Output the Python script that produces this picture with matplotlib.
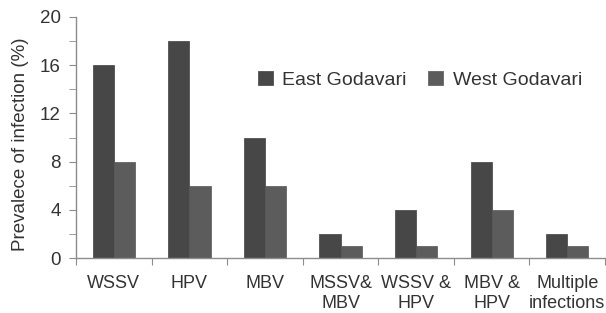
import numpy as np
import matplotlib.pyplot as plt
from matplotlib.ticker import MultipleLocator, FixedLocator

categories = ["WSSV", "HPV", "MBV", "MSSV&\nMBV", "WSSV &\nHPV", "MBV &\nHPV", "Multiple\ninfections"]
east = [16, 18, 10, 2, 4, 8, 2]
west = [8, 6, 6, 1, 1, 4, 1]

plt.rcParams['font.family'] = ['Liberation Sans', 'DejaVu Sans']
txt = '#333333'
axc = '#8c8c8c'

fig = plt.figure(figsize=(6.06, 3.13), dpi=100)
ax = fig.add_axes([0.1254, 0.1757, 0.873, 0.77])

x = np.arange(len(categories))
w = 0.28
ax.bar(x - w / 2, east, w, color='#474747', edgecolor='#404040', linewidth=0.5, label='East Godavari')
ax.bar(x + w / 2, west, w, color='#5c5c5c', edgecolor='#555555', linewidth=0.5, label='West Godavari')

ax.set_xlim(-0.5, 6.5)
ax.set_ylim(0, 20)
ax.yaxis.set_major_locator(MultipleLocator(4))
ax.yaxis.set_minor_locator(MultipleLocator(2))
ax.xaxis.set_major_locator(FixedLocator(np.arange(-0.5, 7, 1)))
ax.xaxis.set_minor_locator(FixedLocator(x))
ax.set_xticklabels([])
ax.set_xticklabels(categories, minor=True, fontsize=13, color=txt, linespacing=1.25)
ax.tick_params(axis='x', which='minor', length=0, pad=12)
ax.tick_params(axis='x', which='major', length=5, color=axc, direction='out')
ax.tick_params(axis='y', which='both', length=5, color=axc, direction='out', labelsize=13.5,
               labelcolor=txt, pad=6)

for s in ['top', 'right']:
    ax.spines[s].set_visible(False)
for s in ['left', 'bottom']:
    ax.spines[s].set_color(axc)
    ax.spines[s].set_linewidth(1)

ax.set_ylabel("Prevalece of infection (%)", fontsize=13.5, color=txt)
ax.yaxis.set_label_coords(-0.088, 0.47)

ax.legend(loc='upper left', bbox_to_anchor=(0.311, 0.85), ncol=2, frameon=False,
          fontsize=14, handlelength=0.75, handleheight=0.75, handletextpad=0.5,
          columnspacing=1.1, labelcolor=txt)

fig.savefig('out.png', dpi=100)
